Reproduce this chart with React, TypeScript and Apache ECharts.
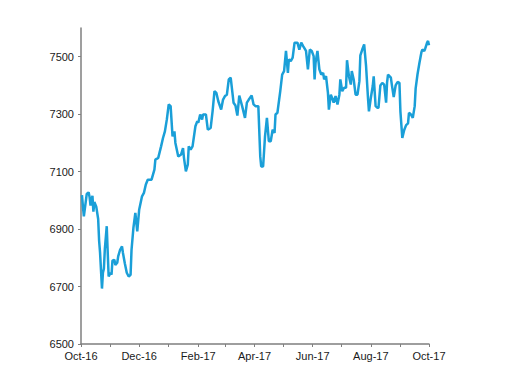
import React, { useEffect, useRef } from "react";
import * as echarts from "echarts";

// Trading dates (days after 2016-10-01) and index values
const dayOffsets: number[] = [
  1, 2, 3, 6, 8, 9, 10, 12, 13, 14, 16, 18, 19, 20, 22, 23, 24, 25, 27, 28, 29, 31, 32, 33, 35, 36, 38, 39,
  41, 43, 44, 46, 48, 50, 52, 53, 55, 57, 59, 61, 64, 66, 68, 70, 74, 77, 78, 81, 84, 86, 88, 90, 92, 94,
  96, 98, 99, 102, 105, 107, 108, 110, 112, 113, 115, 117, 120, 122, 123, 125, 127, 128, 131, 133, 136,
  138, 140, 142, 144, 147, 149, 151, 153, 155, 157, 160, 162, 164, 166, 169, 172, 174, 176, 179, 181,
  183, 186, 188, 189, 191, 193, 195, 197, 199, 201, 203, 204, 206, 209, 211, 213, 215, 217, 218, 220,
  222, 224, 227, 229, 231, 233, 236, 238, 240, 242, 244, 245, 246, 248, 250, 252, 254, 255, 257, 259,
  260, 262, 264, 265, 267, 269, 271, 272, 274, 276, 278, 279, 281, 283, 284, 286, 288, 290, 292, 293,
  295, 297, 299, 301, 302, 304, 306, 307, 309, 311, 312, 314, 316, 318, 320, 321, 322, 325, 326, 328,
  330, 332, 334, 335, 337, 339, 341, 343, 344, 346, 348, 350, 351, 353, 355, 357, 358, 360, 361, 363,
  364, 365,
];

const indexValues: number[] = [
  7018, 6979, 6944, 7022, 7028, 7012, 6982, 7016, 6961, 6994, 6978, 6935, 6860, 6817, 6693, 6748, 6762,
  6830, 6910, 6820, 6735, 6748, 6741, 6790, 6793, 6775, 6783, 6805, 6828, 6840, 6817, 6780, 6748, 6735,
  6741, 6828, 6905, 6956, 6892, 6967, 7014, 7026, 7055, 7072, 7072, 7107, 7142, 7148, 7188, 7217, 7240,
  7281, 7334, 7328, 7223, 7240, 7200, 7153, 7160, 7182, 7148, 7101, 7124, 7188, 7177, 7188, 7258, 7276,
  7270, 7299, 7281, 7299, 7299, 7246, 7252, 7310, 7380, 7374, 7345, 7316, 7351, 7363, 7368, 7421, 7427,
  7340, 7330, 7295, 7365, 7328, 7287, 7340, 7351, 7365, 7334, 7328, 7328, 7153, 7118, 7118, 7223, 7287,
  7206, 7206, 7246, 7235, 7299, 7305, 7380, 7438, 7450, 7520, 7444, 7491, 7485, 7497, 7549, 7549, 7525,
  7549, 7537, 7520, 7456, 7525, 7520, 7502, 7421, 7479, 7520, 7456, 7438, 7444, 7421, 7432, 7374, 7316,
  7368, 7351, 7340, 7363, 7334, 7368, 7421, 7380, 7392, 7392, 7488, 7432, 7403, 7450, 7421, 7368, 7368,
  7415, 7505, 7525, 7543, 7467, 7357, 7310, 7357, 7398, 7432, 7328, 7322, 7322, 7400, 7409, 7403, 7340,
  7410, 7438, 7427, 7403, 7360, 7400, 7412, 7409, 7310, 7217, 7245, 7262, 7268, 7305, 7299, 7287, 7328,
  7390, 7440, 7479, 7515, 7525, 7520, 7528, 7549, 7555, 7540,
];

// Month starts (days after 2016-10-01) for ticks, and labels on every other month
const monthStarts: number[] = [0, 31, 61, 92, 123, 151, 182, 212, 243, 273, 304, 335, 365];
const monthLabels: string[] = ["Oct-16", "", "Dec-16", "", "Feb-17", "", "Apr-17", "", "Jun-17", "", "Aug-17", "", "Oct-17"];
const yTicks: number[] = [6500, 6700, 6900, 7100, 7300, 7500];

export default function App() {
  const ref = useRef<HTMLDivElement>(null);
  useEffect(() => {
    if (!ref.current) return;
    const chart = echarts.init(ref.current, null, { renderer: "svg" });
    const data = dayOffsets.map((d, i) => [d, indexValues[i]]);
    const labelMap: Record<number, string> = {};
    monthStarts.forEach((m, i) => (labelMap[m] = monthLabels[i]));
    chart.setOption({
      animation: false,
      grid: { left: 73, right: 75, top: 20, bottom: 32, containLabel: false },
      xAxis: {
        type: "value",
        min: 0,
        max: 365,
        splitLine: { show: false },
        axisLine: { lineStyle: { color: "#7f7f7f", width: 1.5 } },
        axisTick: { show: true, length: 3, lineStyle: { color: "#7f7f7f" }, customValues: monthStarts },
        axisLabel: {
          customValues: monthStarts.filter((_, i) => monthLabels[i] !== ""),
          formatter: (v: number) => labelMap[v] ?? "",
          color: "#1a1a1a",
          fontFamily: "Liberation Sans, Arial, sans-serif",
          fontSize: 11,
          margin: 6,
        },
      },
      yAxis: {
        type: "value",
        min: 6500,
        max: 7600,
        interval: 200,
        splitLine: { show: false },
        axisLine: { show: true, lineStyle: { color: "#7f7f7f", width: 1.5 } },
        axisTick: { show: true, length: 3, lineStyle: { color: "#7f7f7f" }, customValues: yTicks },
        axisLabel: {
          customValues: yTicks,
          formatter: (v: number) => String(v),
          color: "#1a1a1a",
          fontFamily: "Liberation Sans, Arial, sans-serif",
          fontSize: 11,
          margin: 7,
        },
      },
      series: [
        {
          type: "line",
          data,
          showSymbol: false,
          lineStyle: { color: "#1a9fd8", width: 2.5 },
          itemStyle: { color: "#1a9fd8" },
        },
      ],
    });
    return () => chart.dispose();
  }, []);
  return <div ref={ref} style={{ width: 496, height: 368 }} />;
}
